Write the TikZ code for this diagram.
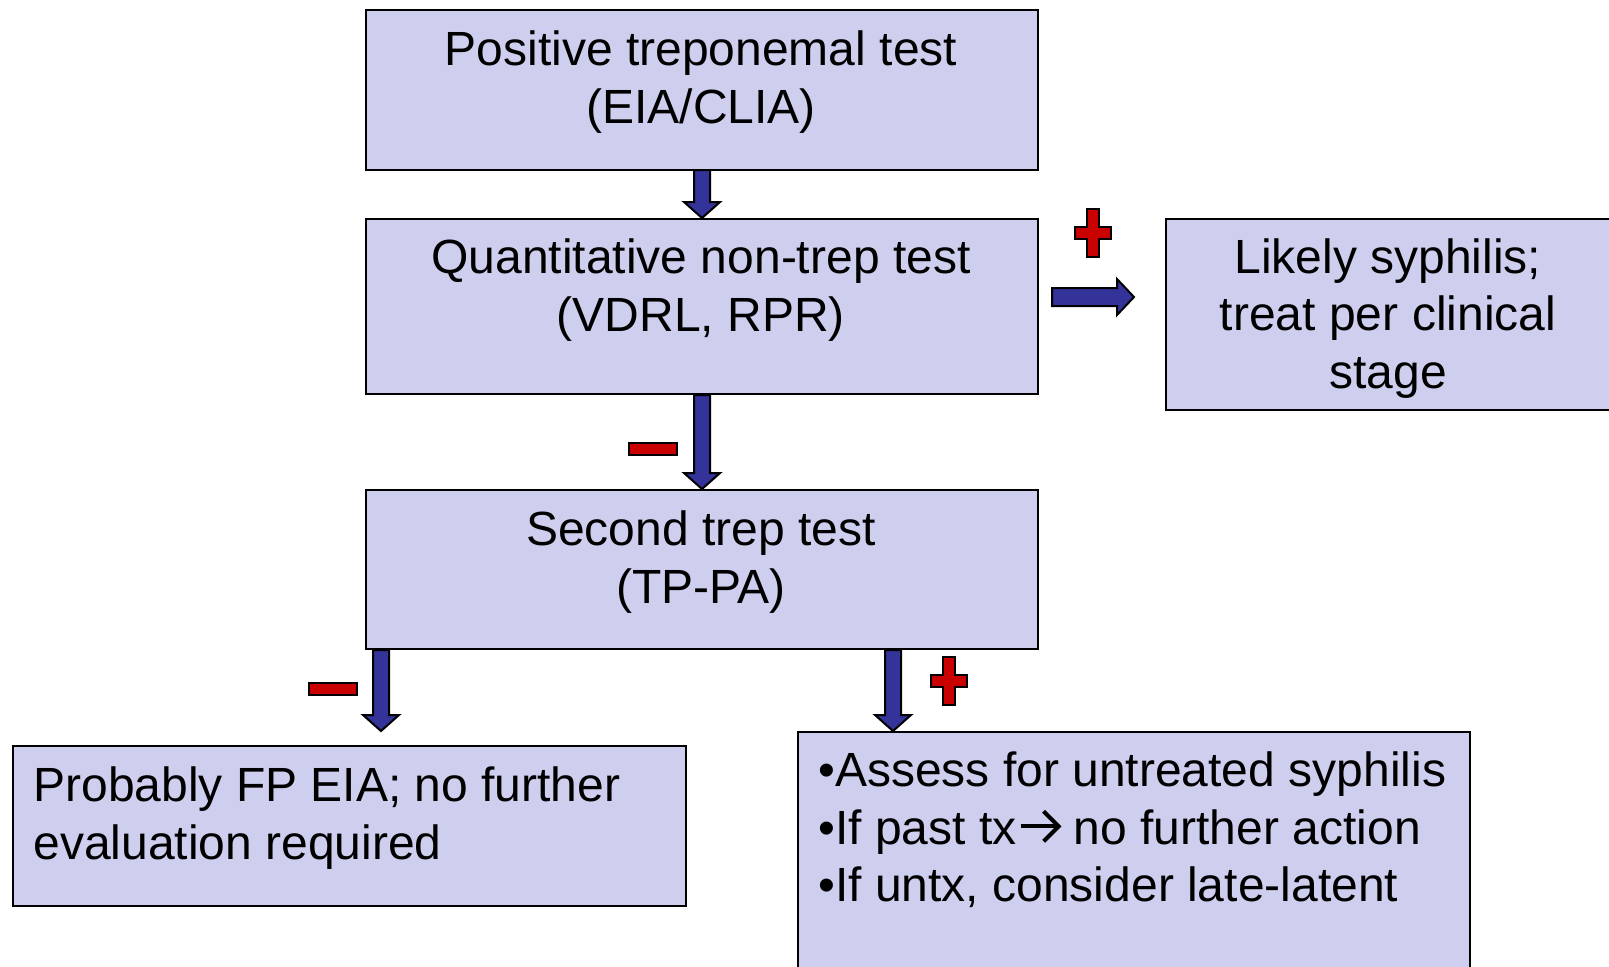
\documentclass[tikz,border=0pt]{standalone}
\usepackage{fontspec}
\setmainfont{Liberation Sans}
\usetikzlibrary{calc}
\definecolor{boxfill}{RGB}{206,206,238}
\definecolor{arrblue}{RGB}{51,51,153}
\definecolor{signred}{RGB}{200,0,0}
\tikzset{
  box/.style={draw=black, line width=1pt, fill=boxfill, rectangle, inner sep=0pt, anchor=north west},
  txt/.style={inner sep=0pt, font=\fontsize{24}{28.75}\selectfont, text=black},
  blockarrow/.style={draw=black, line width=1pt, fill=arrblue, line join=miter},
  signshape/.style={draw=black, line width=1pt, fill=signred, line join=miter},
}
\newcommand\arrdown[2]{\path[blockarrow] let \p1=#1, \p2=#2 in
  (\x1-4pt,\y1) -- (\x1+4pt,\y1) -- (\x1+4pt,\y2+8pt) -- (\x1+9pt,\y2+8pt) -- (\x1,\y2)
  -- (\x1-9pt,\y2+8pt) -- (\x1-4pt,\y2+8pt) -- cycle;}
\newcommand\arrright[2]{\path[blockarrow] let \p1=#1, \p2=#2 in
  (\x1,\y1+4.5pt) -- (\x2-8.5pt,\y1+4.5pt) -- (\x2-8.5pt,\y1+9pt) -- (\x2,\y1)
  -- (\x2-8.5pt,\y1-9pt) -- (\x2-8.5pt,\y1-4.5pt) -- (\x1,\y1-4.5pt) -- cycle;}
\newcommand\plussign[1]{\path[signshape] let \p1=#1 in
  (\x1-3pt,\y1+12pt) -- (\x1+3pt,\y1+12pt) -- (\x1+3pt,\y1+3pt) -- (\x1+9pt,\y1+3pt)
  -- (\x1+9pt,\y1-3pt) -- (\x1+3pt,\y1-3pt) -- (\x1+3pt,\y1-12pt) -- (\x1-3pt,\y1-12pt)
  -- (\x1-3pt,\y1-3pt) -- (\x1-9pt,\y1-3pt) -- (\x1-9pt,\y1+3pt) -- (\x1-3pt,\y1+3pt) -- cycle;}
\newcommand\minussign[1]{\path[signshape] let \p1=#1 in
  (\x1-12pt,\y1+3pt) rectangle (\x1+12pt,\y1-3pt);}
\newcommand\txarrow{\kern1pt\tikz[baseline=0pt,x=1pt,y=1pt]{%
  \draw[line width=2pt, line cap=butt] (0,9) -- (18.5,9);
  \draw[line width=2pt, line cap=butt, line join=miter] (11.5,16.5) -- (19,9) -- (11.5,1.5);}}
\begin{document}
\begin{tikzpicture}[x=0.5pt,y=-0.5pt]
\useasboundingbox (0,0) rectangle (1609,966);
\clip (0,0) rectangle (1609,966);
\fill[white] (0,0) rectangle (1609,966);
% boxes
\node[box, minimum width=336pt, minimum height=80pt] (b1) at (365,9) {};
\node[box, minimum width=336pt, minimum height=87.5pt] (b2) at (365,218) {};
\node[box, minimum width=223pt, minimum height=95.5pt] (b4) at (1165,218) {};
\node[box, minimum width=336pt, minimum height=79.5pt] (b3) at (365,489) {};
\node[box, minimum width=336.5pt, minimum height=80pt] (b5) at (12,745) {};
\node[box, minimum width=336pt, minimum height=125pt] (b6) at (797,731) {};
% texts
\node[txt, align=center] (t1) at (701,82) {Positive treponemal test\\(EIA/CLIA)};
\node[txt, align=center] (t2) at (701,290) {Quantitative non-trep test\\(VDRL, RPR)};
\node[txt, align=center] (t4) at (1388,318.5) {Likely syphilis;\\treat per clinical\\stage};
\node[txt, align=center] (t3) at (701,562) {Second trep test\\(TP-PA)};
\node[txt, align=left, anchor=west] (t5) at (33,818) {Probably FP EIA; no further\\evaluation required};
\node[txt, align=left, anchor=west] (t6) at (818,830) {•Assess for untreated syphilis\\•If past tx\txarrow{} no further action\\•If untx, consider late-latent};
% arrows
\coordinate (a1s) at ($(b1.south)+(0,-1)$);
\arrdown{(a1s)}{(b2.north)}
\arrdown{(b2.south)}{(b3.north)}
\coordinate (a3s) at ($(b3.south west)+(16,0)$);
\coordinate (a3e) at ($(b3.south west)+(16,81)$);
\arrdown{(a3s)}{(a3e)}
\coordinate (a4s) at ($(b3.south west)+(528,0)$);
\coordinate (a4e) at ($(b3.south west)+(528,81)$);
\arrdown{(a4s)}{(a4e)}
\coordinate (a5s) at (1052,297);
\coordinate (a5e) at (1134,297);
\arrright{(a5s)}{(a5e)}
% signs
\coordinate (p1) at (1093,233);
\plussign{(p1)}
\coordinate (p2) at (949,680.5);
\plussign{(p2)}
\coordinate (m1) at (653,449);
\minussign{(m1)}
\coordinate (m2) at (333,689);
\minussign{(m2)}
\end{tikzpicture}
\end{document}
